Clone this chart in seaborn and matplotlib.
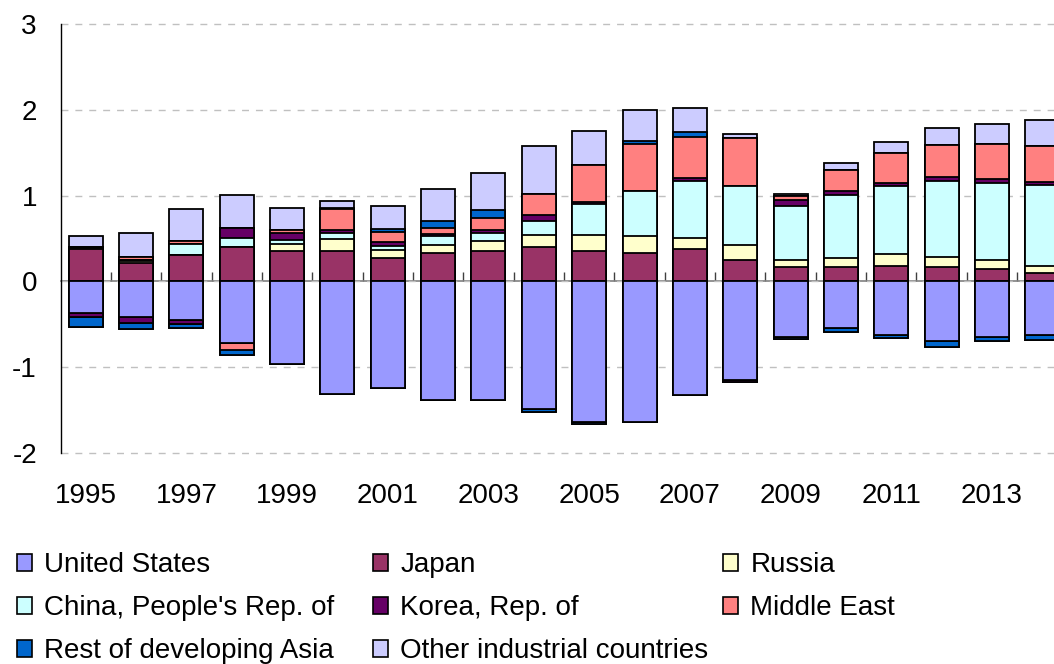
import numpy as np
import matplotlib
matplotlib.use("Agg")
import matplotlib.pyplot as plt
from matplotlib.patches import Patch
from matplotlib.ticker import FixedLocator, NullLocator
import seaborn as sns

years = [str(y) for y in range(1995, 2015)]

united_states = [-0.37, -0.42, -0.455, -0.715, -0.97, -1.31, -1.245, -1.39, -1.39, -1.49,
                 -1.64, -1.645, -1.33, -1.155, -0.65, -0.545, -0.62, -0.70, -0.65, -0.62]
japan = [0.38, 0.21, 0.31, 0.40, 0.355, 0.355, 0.27, 0.335, 0.355, 0.40,
         0.355, 0.335, 0.375, 0.245, 0.165, 0.165, 0.18, 0.165, 0.14, 0.10]
russia = [0.01, 0.03, 0.0, 0.0, 0.085, 0.145, 0.10, 0.085, 0.115, 0.145,
          0.19, 0.195, 0.13, 0.175, 0.085, 0.105, 0.135, 0.125, 0.115, 0.085]
china = [0.005, 0.01, 0.13, 0.105, 0.04, 0.065, 0.04, 0.11, 0.095, 0.165,
         0.36, 0.52, 0.67, 0.69, 0.63, 0.74, 0.80, 0.885, 0.90, 0.945]
korea = [-0.05, -0.06, -0.04, 0.12, 0.09, 0.04, 0.05, 0.02, 0.04, 0.07,
         0.02, 0.0, 0.03, -0.02, 0.065, 0.04, 0.04, 0.04, 0.045, 0.03]
middle_east = [0.01, 0.04, 0.03, -0.08, 0.03, 0.235, 0.115, 0.07, 0.14, 0.235,
               0.43, 0.55, 0.48, 0.57, 0.055, 0.255, 0.345, 0.38, 0.40, 0.42]
rest_dev_asia = [-0.11, -0.07, -0.05, -0.07, 0.0, 0.015, 0.04, 0.09, 0.085, -0.03,
                 -0.03, 0.04, 0.065, 0.0, -0.02, -0.04, -0.045, -0.06, -0.04, -0.065]
other_industrial = [0.12, 0.28, 0.38, 0.385, 0.26, 0.08, 0.27, 0.37, 0.44, 0.565,
                    0.405, 0.36, 0.27, 0.045, 0.015, 0.08, 0.13, 0.195, 0.235, 0.30]

series_names = ["United States", "Japan", "Russia", "China, People's Rep. of",
                "Korea, Rep. of", "Middle East", "Rest of developing Asia",
                "Other industrial countries"]
series_values = [united_states, japan, russia, china, korea, middle_east,
                 rest_dev_asia, other_industrial]
series_colors = ["#9999FF", "#993366", "#FFFFCC", "#CCFFFF", "#660066", "#FF8080",
                 "#0066CC", "#CCCCFF"]

sns.set_style("white")
plt.rcParams["font.family"] = ["Liberation Sans", "DejaVu Sans"]
plt.rcParams["text.color"] = "black"
plt.rcParams["axes.labelcolor"] = "black"
plt.rcParams["xtick.color"] = "black"
plt.rcParams["ytick.color"] = "black"

fig = plt.figure(figsize=(10.54, 6.64), dpi=100)
slot = 50.35
ax = fig.add_axes([60.5 / 1054, 1 - 452.7 / 664, 20 * slot / 1054, (452.7 - 24.5) / 664])

vals = np.array(series_values, dtype=float)
pos = np.clip(vals, 0, None)
neg = np.clip(vals, None, 0)
pos_cum = np.cumsum(pos, axis=0)
neg_cum = np.cumsum(neg, axis=0)

bar_w = 34 / slot
for k in range(len(series_names) - 1, -1, -1):
    for cum in (pos_cum, neg_cum):
        sns.barplot(x=years, y=cum[k], color=series_colors[k], saturation=1,
                    width=bar_w, edgecolor="black", linewidth=1.3,
                    errorbar=None, ax=ax, zorder=3)

ax.set_xlim(-0.5, 19.5)
ax.set_ylim(-2, 3)
ax.set_yticks([-2, -1, 0, 1, 2, 3])
ax.set_yticklabels(["-2", "-1", "0", "1", "2", "3"])
ax.set_xticks(range(0, 20, 2))
ax.set_xticklabels(years[::2])
ax.set_xlabel("")
ax.set_ylabel("")
ax.tick_params(axis="x", length=0, pad=22, labelsize=20, colors="black")
ax.tick_params(axis="y", direction="in", length=7, width=1, pad=17, labelsize=20,
               colors="black")

for s in ("top", "right", "bottom"):
    ax.spines[s].set_visible(False)
ax.spines["left"].set_color("black")
ax.spines["left"].set_linewidth(1)

ax.yaxis.grid(True, linestyle=(0, (5, 5)), color="#C0C0C0", linewidth=1)
ax.xaxis.grid(False)
ax.set_axisbelow(True)
for gl in ax.get_ygridlines():
    gl.set_clip_on(False)

# zero line with tick marks between categories
sec = ax.secondary_xaxis(0, transform=ax.transData)
sec.spines["bottom"].set_color("#808080")
sec.spines["bottom"].set_linewidth(1.2)
sec.spines["top"].set_visible(False)
sec.xaxis.set_major_locator(NullLocator())
sec.xaxis.set_minor_locator(FixedLocator(np.arange(0.5, 19.5, 1)))
sec.tick_params(axis="x", which="minor", direction="in", length=6.5, width=1,
                color="#404040", labelbottom=False)

handles = [Patch(facecolor=c, edgecolor="black", linewidth=1.2) for c in series_colors]
columns = [[0, 3, 6], [1, 4, 7], [2, 5]]
col_x = [16.5, 372.5, 722.5]
for idx, cx in zip(columns, col_x):
    leg = fig.legend([handles[i] for i in idx], [series_names[i] for i in idx],
                     loc="upper left", bbox_to_anchor=(cx / 1054, 1 - 552 / 664),
                     ncol=1, frameon=False, fontsize=20, handlelength=0.55,
                     handleheight=0.55, handletextpad=0.45, labelspacing=0.62,
                     borderpad=0, borderaxespad=0, labelcolor="black")

fig.savefig("out.png", dpi=100)
